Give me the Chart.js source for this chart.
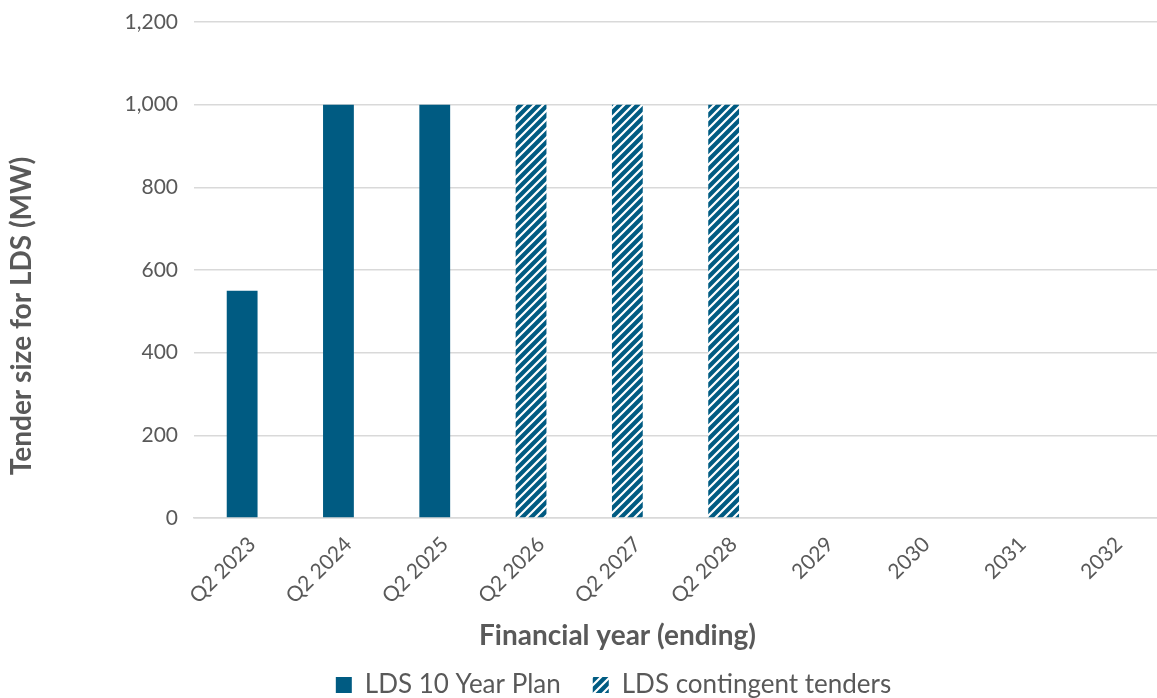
<!DOCTYPE html>
<html>
<head>
<meta charset="utf-8">
<script src="https://cdn.jsdelivr.net/npm/chart.js@4/dist/chart.umd.min.js"></script>
<style>
  html, body { margin: 0; padding: 0; background: #fff; }
  #wrap { width: 1157px; height: 698px; }
</style>
</head>
<body>
<div id="wrap"><canvas id="ldsChart"></canvas></div>
<script>
const years = ['Q2 2023', 'Q2 2024', 'Q2 2025', 'Q2 2026', 'Q2 2027', 'Q2 2028', '2029', '2030', '2031', '2032'];
const planMW = [550, 1000, 1000, null, null, null, null, null, null, null];
const contingentMW = [null, null, null, 1000, 1000, 1000, null, null, null, null];
const yTicks = [0, 200, 400, 600, 800, 1000, 1200];

const TEAL = '#005b82';
const GREY = '#595959';
const FONT = 'Lato, "Noto Sans", sans-serif';

// diagonal white stripes on teal for the contingent tenders
function stripes() {
    const c = document.createElement('canvas');
    const s = 9;
    c.width = s; c.height = s;
    const g = c.getContext('2d');
    g.fillStyle = TEAL;
    g.fillRect(0, 0, s, s);
    g.strokeStyle = '#fff';
    g.lineWidth = 2.2;
    g.beginPath();
    g.moveTo(-2, s + 2); g.lineTo(s + 2, -2);
    g.moveTo(-2, 2); g.lineTo(2, -2);
    g.moveTo(s - 2, s + 2); g.lineTo(s + 2, s - 2);
    g.stroke();
    return g.createPattern(c, 'repeat');
}

// axis titles, placed by hand (both sit off-centre from the plot)
const axisTitles = {
    id: 'axisTitles',
    afterDraw(chart) {
        const g = chart.ctx;
        const a = chart.chartArea;
        g.save();
        g.fillStyle = GREY;
        g.font = 'bold 28px ' + FONT;
        g.textAlign = 'center';
        g.textBaseline = 'middle';
        g.fillText('Financial year (ending)', (a.left + a.right) / 2 - 58, 636);
        g.translate(22, (a.top + a.bottom) / 2 + 46);
        g.rotate(-Math.PI / 2);
        g.fillText('Tender size for LDS (MW)', 0, 0);
        g.restore();
    }
};

// legend padding also spaces the items apart, so squeeze its box height
// and nudge it right to sit under the x title
const legendBox = {
    id: 'legendBox',
    beforeLayout(chart) {
        const lg = chart.legend;
        if (!lg || lg._squeezed) return;
        const fit = lg.fit;
        lg.fit = function () {
            fit.call(this);
            this.height = 58;
        };
        lg._squeezed = true;
    },
    afterLayout(chart) {
        const lg = chart.legend;
        lg.left += 31;
        lg.right += 31;
    }
};

const ctx = document.getElementById('ldsChart').getContext('2d');
new Chart(ctx, {
    type: 'bar',
    data: {
        labels: years,
        datasets: [{
            label: 'LDS 10 Year Plan',
            data: planMW,
            backgroundColor: TEAL,
            barPercentage: 0.32,
            categoryPercentage: 1
        }, {
            label: 'LDS contingent tenders',
            data: contingentMW,
            backgroundColor: stripes(),
            barPercentage: 0.32,
            categoryPercentage: 1
        }]
    },
    plugins: [axisTitles, legendBox],
    options: {
        responsive: true,
        maintainAspectRatio: false,
        animation: false,
        layout: { padding: { top: 0, right: 0, bottom: 0, left: 8 } },
        plugins: {
            legend: {
                position: 'bottom',
                labels: {
                    color: GREY,
                    font: { family: FONT, size: 26 },
                    boxWidth: 16,
                    boxHeight: 16,
                    padding: 32
                }
            },
            tooltip: { enabled: false }
        },
        scales: {
            x: {
                stacked: true,
                grid: { display: false },
                border: { color: '#d9d9d9', width: 1.5 },
                ticks: {
                    color: GREY,
                    font: { family: FONT, size: 21 },
                    maxRotation: 45,
                    minRotation: 45,
                    padding: 6,
                    labelOffset: 10
                },
                afterFit: axis => { axis.height = 122; }
            },
            y: {
                stacked: true,
                min: 0,
                max: 1200,
                afterBuildTicks: axis => { axis.ticks = yTicks.map(v => ({ value: v })); },
                grid: { color: '#d9d9d9', drawTicks: false, lineWidth: 1.5 },
                border: { display: false },
                ticks: {
                    color: GREY,
                    font: { family: FONT, size: 21 },
                    padding: 16,
                    callback: v => v.toLocaleString('en-US')
                },
                afterFit: axis => {
                    axis.width = 186;
                    axis.paddingTop = 22;
                    axis.paddingBottom = 0;
                }
            }
        }
    }
});
</script>
</body>
</html>
